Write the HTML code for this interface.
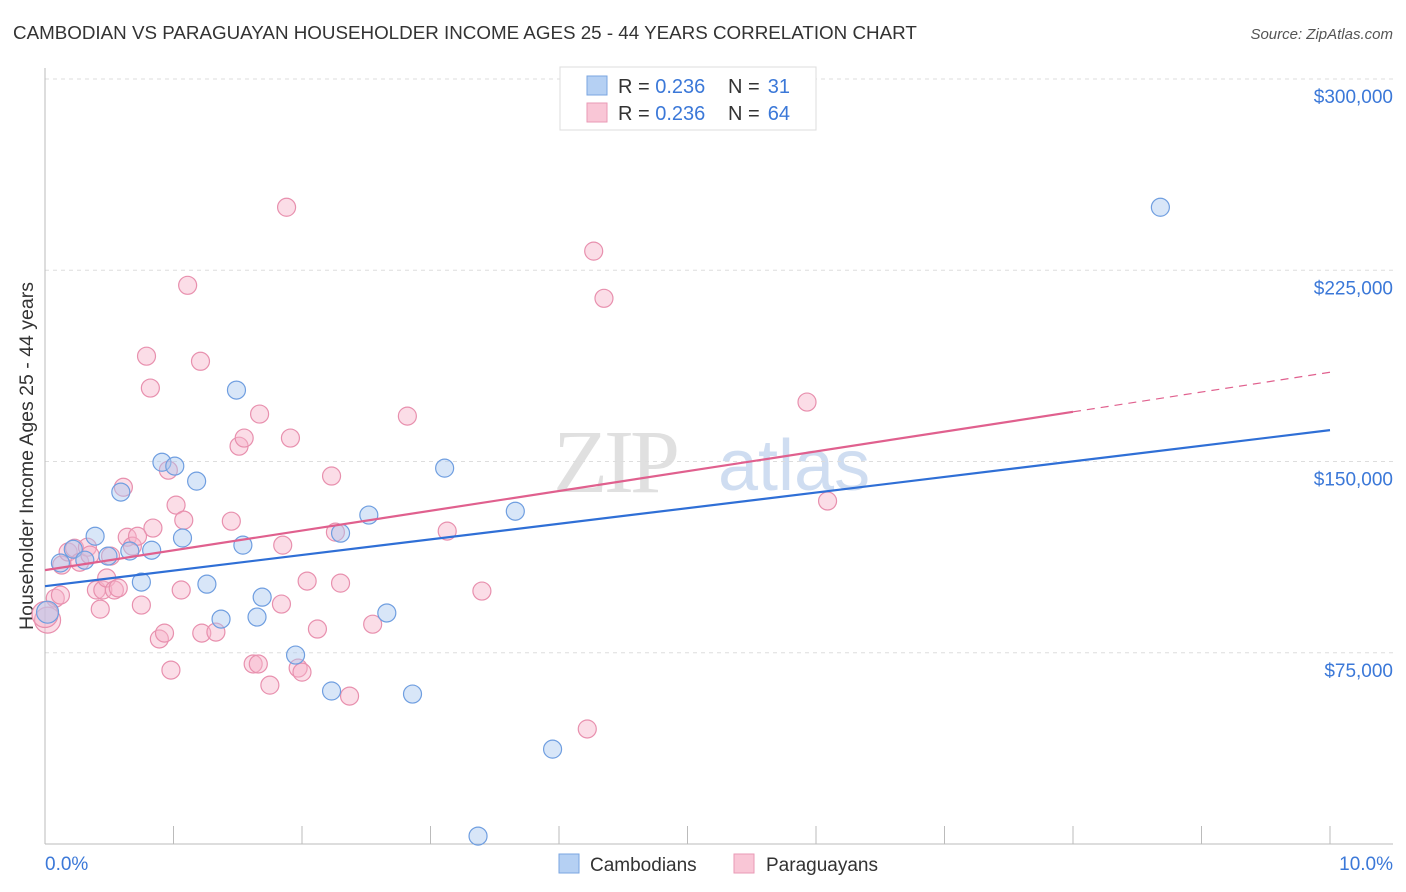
<!DOCTYPE html>
<html><head><meta charset="utf-8">
<style>
body{margin:0;background:#fff;font-family:"Liberation Sans",sans-serif;}
#wrap{position:relative;width:1406px;height:892px;overflow:hidden;}
</style></head>
<body>
<div id="wrap">
<svg id="chart" width="1406" height="892">
<text x="13" y="39" font-size="18.8" fill="#333">CAMBODIAN VS PARAGUAYAN HOUSEHOLDER INCOME AGES 25 - 44 YEARS CORRELATION CHART</text>
<text x="1393" y="39" font-size="15" fill="#555" font-style="italic" text-anchor="end">Source: ZipAtlas.com</text>
<text x="33" y="456" font-size="19.5" fill="#333" text-anchor="middle" transform="rotate(-90 33 456)">Householder Income Ages 25 - 44 years</text>
<g opacity="0.55">
<text x="553" y="492" font-size="90" fill="#c8c8c8" font-family="Liberation Serif,serif" letter-spacing="-4">ZIP</text>
<text x="718" y="490" font-size="72" fill="#a9c3e6">atlas</text>
</g>
<g id="grid"></g>
<g id="marks"></g>
<g>
<rect x="560" y="67" width="256" height="63" fill="#fff" stroke="#ddd"/>
<rect x="587" y="76" width="20" height="19" fill="#b5d0f3" stroke="#7aa6e0"/>
<rect x="587" y="103" width="20" height="19" fill="#f9c6d6" stroke="#e99ab6"/>
<text x="618" y="93" font-size="20" fill="#333">R = <tspan fill="#3b78d8">0.236</tspan></text>
<text x="728" y="93" font-size="20" fill="#333">N =</text>
<text x="790" y="93" font-size="20" fill="#3b78d8" text-anchor="end">31</text>
<text x="618" y="120" font-size="20" fill="#333">R = <tspan fill="#3b78d8">0.236</tspan></text>
<text x="728" y="120" font-size="20" fill="#333">N =</text>
<text x="790" y="120" font-size="20" fill="#3b78d8" text-anchor="end">64</text>
</g>
<g>
<rect x="559" y="854" width="20" height="19" fill="#b5d0f3" stroke="#7aa6e0"/>
<text x="590" y="871" font-size="19" fill="#333">Cambodians</text>
<rect x="734" y="854" width="20" height="19" fill="#f9c6d6" stroke="#e99ab6"/>
<text x="766" y="871" font-size="19" fill="#333">Paraguayans</text>
</g>
</svg>
</div>
<script>
const yTicks=[75000,150000,225000,300000];
const yTickLabels=["$75,000","$150,000","$225,000","$300,000"];
const xTickLabels=["0.0%","10.0%"];
const camX=[0.12,0.22,0.31,0.39,0.49,0.59,0.66,0.75,0.83,0.91,1.01,1.07,1.18,1.26,1.37,1.49,1.54,1.65,1.69,1.95,2.23,2.30,2.52,2.66,2.86,3.11,3.66,3.95,3.37,8.68,0.02];
const camY=[110.2,115.6,111.3,120.7,112.9,138.0,114.9,102.7,115.2,149.7,148.2,120.0,142.3,101.9,88.2,178.0,117.2,89.0,96.8,74.1,60.0,121.9,129.0,90.6,58.8,147.4,130.5,37.2,3.1,249.7,90.9];
const parX=[0.02,0.08,0.13,0.18,0.23,0.27,0.33,0.40,0.43,0.45,0.48,0.51,0.54,0.57,0.61,0.64,0.68,0.72,0.75,0.79,0.82,0.84,0.89,0.93,0.96,0.98,1.02,1.06,1.08,1.11,1.21,1.22,1.33,1.45,1.51,1.55,1.62,1.66,1.67,1.75,1.85,1.84,1.88,1.91,1.97,2.00,2.04,2.12,2.23,2.26,2.30,2.37,2.55,2.82,3.13,3.40,4.22,4.27,4.35,5.93,6.09,0.12,0.35,0.0];
const parY=[87.8,96.4,109.4,114.5,116.0,110.5,116.4,99.6,92.1,99.6,104.3,112.9,99.6,100.4,139.9,120.3,116.8,120.7,93.7,191.3,178.8,123.9,80.4,82.7,146.6,68.2,132.9,99.6,127.0,219.1,189.3,82.7,83.1,126.6,156.0,159.2,70.6,70.6,168.6,62.3,117.2,94.1,249.7,159.2,69.0,67.4,103.1,84.3,144.3,122.3,102.3,58.0,86.2,167.8,122.7,99.2,45.1,232.5,214.0,173.3,134.5,97.6,113.3,90.0];
const camLine=[101.1,162.3];
const parLine=[107.4,185.0];
const parSolidEnd=8.0;

const NS="http://www.w3.org/2000/svg";
const X0=45,X1=1330,Y0=844,Y300=79;
function xs(p){return X0+p*(X1-X0)/10;}
function ys(v){return Y0-v*(Y0-Y300)/300000;}
function mk(tag,attrs,parent){const e=document.createElementNS(NS,tag);for(const k in attrs)e.setAttribute(k,attrs[k]);parent.appendChild(e);return e;}
const grid=document.getElementById('grid'),marks=document.getElementById('marks');
yTicks.forEach((t,i)=>{
 const l=mk('line',{x1:X0,x2:1393,y1:ys(t),y2:ys(t),stroke:'#ddd','stroke-dasharray':'4,4'},grid);
 
 
 const tx=mk('text',{x:1393,y:ys(t)+24,'font-size':19,fill:'#3b78d8','text-anchor':'end'},grid);
 tx.textContent=yTickLabels[i];
 
 
});
const tg=mk('line',{x1:X0,x2:1393,y1:Y300,y2:Y300,stroke:'#ddd','stroke-dasharray':'4,4'},grid);


const ax=mk('line',{x1:X0,x2:1393,y1:Y0,y2:Y0,stroke:'#bbb'},grid);


const ay=mk('line',{x1:X0,x2:X0,y1:68,y2:Y0,stroke:'#bbb'},grid);


for(let i=0;i<=10;i++){
 const t=mk('line',{x1:xs(i),x2:xs(i),y1:Y0,y2:Y0-18,stroke:'#bbb'},grid);
 
 
}
[[0,'start',45],[10,'end',1393]].forEach((d,i)=>{
 const t=mk('text',{x:d[2],y:870,'font-size':19,fill:'#3b78d8','text-anchor':d[1]},grid);
 t.textContent=xTickLabels[i];
 
 
});
function dots(X,Y,fill,stroke,name){
 X.forEach((x,i)=>{
  const r=(x<0.05)?(name==='paraguayan-point'?13:11):9;
  const c=mk('circle',{cx:xs(x),cy:ys(Y[i]*1000),r:r,fill:fill,'fill-opacity':0.45,stroke:stroke,'stroke-width':1.2},marks);
  
  
 });
}
dots(parX,parY,'#f7b3c9','#e890ae','paraguayan-point');
dots(camX,camY,'#a9c8f0','#6f9ee0','cambodian-point');
const bl=mk('line',{x1:xs(0),y1:ys(camLine[0]*1000),x2:xs(10),y2:ys(camLine[1]*1000),stroke:'#2f6fd6','stroke-width':2.2},marks);


const pm=parLine[0]+(parLine[1]-parLine[0])*parSolidEnd/10;
const pl=mk('line',{x1:xs(0),y1:ys(parLine[0]*1000),x2:xs(parSolidEnd),y2:ys(pm*1000),stroke:'#e0608e','stroke-width':2.2},marks);


const pd=mk('line',{x1:xs(parSolidEnd),y1:ys(pm*1000),x2:xs(10),y2:ys(parLine[1]*1000),stroke:'#e0608e','stroke-width':1.2,'stroke-dasharray':'8,6'},marks);


</script>
</body></html>
